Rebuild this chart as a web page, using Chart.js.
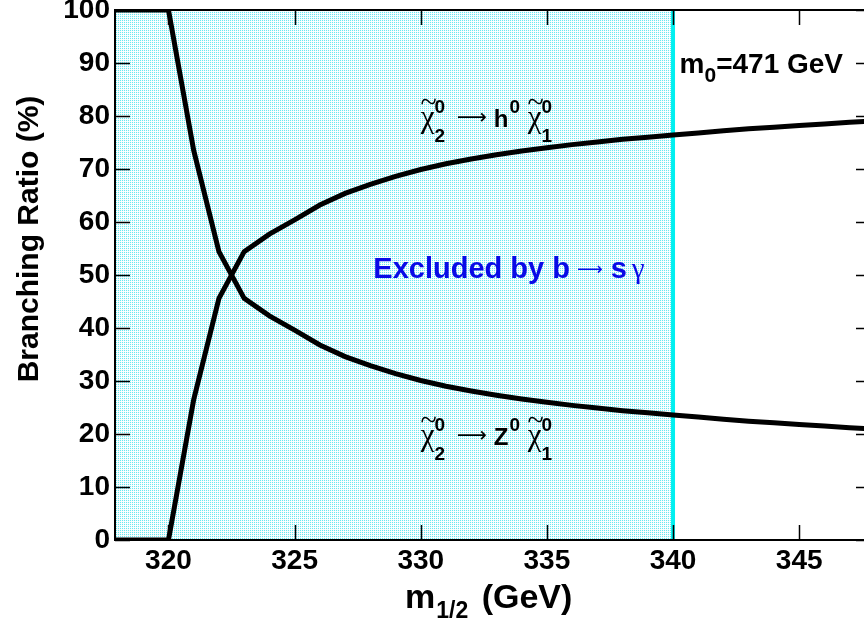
<!DOCTYPE html>
<html>
<head>
<meta charset="utf-8">
<script src="https://cdn.jsdelivr.net/npm/chart.js@4.4.0/dist/chart.umd.min.js"></script>
<style>
  html, body { margin: 0; padding: 0; background: #fff; }
</style>
</head>
<body>
<canvas id="brChart" width="864" height="625"></canvas>
<script>
// m_1/2 (GeV) sample points
const m12 = [317, 318, 319, 320, 321, 322, 323, 324, 325, 326, 327, 328, 329, 330, 331, 332,
             333, 334, 335, 336, 337, 338, 339, 340, 341, 342, 343, 344, 345, 346, 347, 348];
// BR(chi2 -> Z0 chi1) in %
const brZ = [100, 100, 100, 100, 73.5, 54.4, 45.6, 42.3, 39.6, 36.8, 34.6, 32.9, 31.4, 30.1, 29.0, 28.1,
             27.3, 26.6, 26.0, 25.4, 24.9, 24.4, 24.0, 23.6, 23.2, 22.8, 22.4, 22.1, 21.8, 21.5, 21.2, 20.9];
// BR(chi2 -> h0 chi1) in %
const brH = [0, 0, 0, 0, 26.5, 45.6, 54.4, 57.7, 60.4, 63.2, 65.4, 67.1, 68.6, 69.9, 71.0, 71.9,
             72.7, 73.4, 74.0, 74.6, 75.1, 75.6, 76.0, 76.4, 76.8, 77.2, 77.6, 77.9, 78.2, 78.5, 78.8, 79.1];
const xTickValues = [320, 325, 330, 335, 340, 345];
const yTickValues = [0, 10, 20, 30, 40, 50, 60, 70, 80, 90, 100];
const xMin = 317.88, xMax = 347.57;
const excludedMax = 340;   // b -> s gamma limit

const toPts = (ys) => m12.map((x, i) => ({ x: x, y: ys[i] }));

// dotted cyan fill pattern
const patCanvas = document.createElement('canvas');
patCanvas.width = 2; patCanvas.height = 2;
const pctx = patCanvas.getContext('2d');
pctx.fillStyle = '#f2fdfe'; pctx.fillRect(0, 0, 2, 2);
pctx.fillStyle = '#6ae9f0'; pctx.fillRect(0, 0, 1, 1);
pctx.fillStyle = '#ffffff'; pctx.fillRect(1, 1, 1, 1);

function neutralino(ctx, x, y, sub) {
  ctx.font = '31px "Liberation Serif"';
  ctx.fillText('χ', x, y);
  const w = ctx.measureText('χ').width;
  ctx.font = '30px "Liberation Serif"';
  const tw = ctx.measureText('~').width;
  ctx.fillText('~', x + (w - tw) / 2 + 1, y - 15);
  ctx.font = 'bold 19px "Liberation Sans"';
  ctx.fillText('0', x + w, y - 14);
  ctx.fillText(sub, x + w, y + 15);
}

function decayLabel(ctx, x, y, boson) {
  neutralino(ctx, x, y, '2');
  ctx.font = '21px "DejaVu Sans"';
  ctx.fillText('⟶', x + 36, y - 3);
  ctx.font = 'bold 24px "Liberation Sans"';
  ctx.fillText(boson, x + 73, y);
  const bw = ctx.measureText(boson).width;
  ctx.font = 'bold 19px "Liberation Sans"';
  ctx.fillText('0', x + 73 + bw + 1, y - 14);
  neutralino(ctx, x + 107, y, '1');
}

const exclusionPlugin = {
  id: 'exclusion',
  beforeDatasetsDraw(chart) {
    const { ctx, chartArea: a, scales: { x } } = chart;
    const xe = x.getPixelForValue(excludedMax);
    ctx.save();
    ctx.fillStyle = ctx.createPattern(patCanvas, 'repeat');
    ctx.fillRect(a.left, a.top, xe - a.left, a.bottom - a.top);
    ctx.strokeStyle = '#00f0f0';
    ctx.lineWidth = 4;
    ctx.beginPath();
    ctx.moveTo(xe, a.top); ctx.lineTo(xe, a.bottom);
    ctx.stroke();
    ctx.restore();
  },
  afterDatasetsDraw(chart) {
    const { ctx, chartArea: a, scales: { x, y } } = chart;
    ctx.save();
    ctx.strokeStyle = '#000';
    ctx.lineWidth = 2;
    ctx.beginPath();
    ctx.moveTo(a.right, a.top); ctx.lineTo(a.left, a.top);
    ctx.lineTo(a.left, a.bottom); ctx.lineTo(a.right, a.bottom);
    ctx.stroke();
    ctx.lineWidth = 1.5;
    ctx.beginPath();
    xTickValues.forEach(v => {
      const px = Math.round(x.getPixelForValue(v)) + 0.5;
      ctx.moveTo(px, a.bottom); ctx.lineTo(px, a.bottom - 15);
      ctx.moveTo(px, a.top); ctx.lineTo(px, a.top + 15);
    });
    yTickValues.forEach(v => {
      const py = Math.round(y.getPixelForValue(v)) + 0.5;
      ctx.moveTo(a.left, py); ctx.lineTo(a.left + 15, py);
      ctx.moveTo(a.right, py); ctx.lineTo(a.right - 8, py);
    });
    ctx.stroke();

    // texts
    ctx.fillStyle = '#000';
    ctx.textBaseline = 'alphabetic';
    ctx.textAlign = 'left';
    decayLabel(ctx, x.getPixelForValue(330.0), y.getPixelForValue(77.9), 'h');
    decayLabel(ctx, x.getPixelForValue(330.0), y.getPixelForValue(17.9), 'Z');

    ctx.fillStyle = '#0a0ae6';
    let ex = x.getPixelForValue(328.12), ey = y.getPixelForValue(49.4);
    ctx.font = 'bold 29px "Liberation Sans"';
    ctx.fillText('Excluded by b', ex, ey);
    ex += ctx.measureText('Excluded by b').width + 7;
    ctx.font = '18px "DejaVu Sans"';
    ctx.fillText('⟶', ex, ey - 3);
    ex += ctx.measureText('⟶').width + 8;
    ctx.font = 'bold 29px "Liberation Sans"';
    ctx.fillText('s', ex, ey);
    ex += ctx.measureText('s').width + 5;
    ctx.font = '29px "Liberation Serif"';
    ctx.fillText('γ', ex, ey);

    ctx.fillStyle = '#000';
    let mx = x.getPixelForValue(340.26), my = y.getPixelForValue(88.06);
    ctx.font = 'bold 28px "Liberation Sans"';
    ctx.fillText('m', mx, my);
    mx += ctx.measureText('m').width;
    ctx.font = 'bold 21px "Liberation Sans"';
    ctx.fillText('0', mx, my + 9);
    mx += ctx.measureText('0').width;
    ctx.font = 'bold 28px "Liberation Sans"';
    ctx.fillText('=471 GeV', mx, my);

    // axis titles
    ctx.font = 'bold 30px "Liberation Sans"';
    ctx.textAlign = 'center';
    ctx.save();
    ctx.translate(30, 239);
    ctx.rotate(-Math.PI / 2);
    ctx.textBaseline = 'middle';
    ctx.fillText('Branching Ratio (%)', 0, 0);
    ctx.restore();

    ctx.textAlign = 'left';
    let tx = 405, ty = 608;
    ctx.font = 'bold 34px "Liberation Sans"';
    ctx.fillText('m', tx, ty);
    tx += ctx.measureText('m').width + 1;
    ctx.font = 'bold 23px "Liberation Sans"';
    ctx.fillText('1/2', tx, ty + 10);
    tx += ctx.measureText('1/2').width + 4;
    ctx.font = 'bold 34px "Liberation Sans"';
    ctx.fillText(' (GeV)', tx, ty);
    ctx.restore();
  }
};

const tickFont = { family: 'Liberation Sans', size: 28, weight: 'bold' };

new Chart(document.getElementById('brChart'), {
  type: 'line',
  data: {
    datasets: [
      { label: 'chi2 -> Z0 chi1', data: toPts(brZ), borderColor: '#000', borderWidth: 5,
        pointRadius: 0, tension: 0, fill: false },
      { label: 'chi2 -> h0 chi1', data: toPts(brH), borderColor: '#000', borderWidth: 5,
        pointRadius: 0, tension: 0, fill: false }
    ]
  },
  options: {
    responsive: false,
    animation: false,
    layout: { padding: { top: 10, right: 0, left: 0, bottom: 0 } },
    plugins: { legend: { display: false }, tooltip: { enabled: false } },
    scales: {
      x: {
        type: 'linear', min: xMin, max: xMax,
        afterBuildTicks: (s) => { s.ticks = xTickValues.map(v => ({ value: v })); },
        afterFit: (s) => { s.height = 85; s.paddingLeft = 0; s.paddingRight = 0; },
        grid: { display: false, drawTicks: false },
        border: { display: false },
        ticks: { color: '#000', font: tickFont, padding: 4, maxRotation: 0 }
      },
      y: {
        type: 'linear', min: 0, max: 100,
        afterBuildTicks: (s) => { s.ticks = yTickValues.map(v => ({ value: v })); },
        afterFit: (s) => { s.width = 115; s.paddingTop = 0; s.paddingBottom = 0; },
        grid: { display: false, drawTicks: false },
        border: { display: false },
        ticks: { color: '#000', font: tickFont, padding: 5 }
      }
    }
  },
  plugins: [exclusionPlugin]
});
</script>
</body>
</html>
